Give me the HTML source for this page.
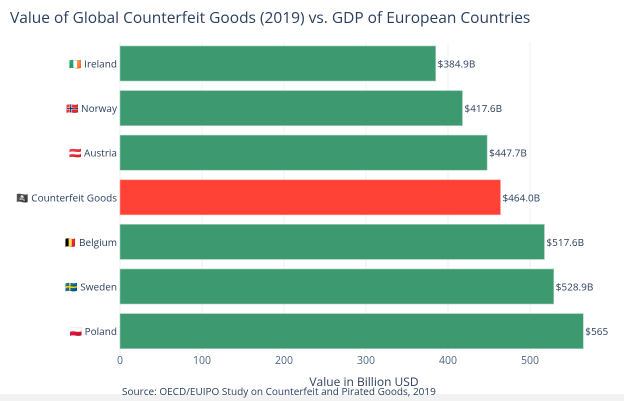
<!DOCTYPE html>
<html><head><meta charset="utf-8"><style>
body{margin:0;background:#fff;font-family:"Open Sans","Liberation Sans","DejaVu Sans",sans-serif;}
#wrap{position:relative;width:624px;height:401px;overflow:hidden;background:#fff;}
</style></head><body>
<div id="wrap">
<svg id="chart" width="624" height="401"></svg>
</div>
<script>
const categories=["Ireland","Norway","Austria","Counterfeit Goods","Belgium","Sweden","Poland"];
const values=[384.9,417.6,447.7,464.0,517.6,528.9,565];
const valueLabels=["$384.9B","$417.6B","$447.7B","$464.0B","$517.6B","$528.9B","$565"];
const ticks=[0,100,200,300,400,500];
const ns="http://www.w3.org/2000/svg";
const svg=document.getElementById('chart');
const x0=120,pxPer=0.82,plotTop=42,step=44.6,barH=35;
const xs=v=>x0+v*pxPer;
function el(t,a,txt){const e=document.createElementNS(ns,t);for(const k in a)e.setAttribute(k,a[k]);if(txt!==undefined)e.textContent=txt;svg.appendChild(e);return e;}
let e;
e=el('rect',{x:0,y:394,width:624,height:7,fill:'#f2f2f2'});


e=el('text',{x:10,y:23,'font-size':15.5,fill:'#2a3f5f'},'Value of Global Counterfeit Goods (2019) vs. GDP of European Countries');


ticks.forEach(t=>{
  e=el('line',{x1:xs(t),x2:xs(t),y1:plotTop,y2:352,stroke:'#eef1f6','stroke-width':1});
  
  
  e=el('text',{x:xs(t),y:364,'font-size':10.5,fill:'#506784','text-anchor':'middle'},String(t));
  
  
});
const flags=["🇮🇪","🇳🇴","🇦🇹","🏴‍☠️","🇧🇪","🇸🇪","🇵🇱"];
categories.forEach((c,i)=>{
  const y=plotTop+4+i*step;
  const red=c==="Counterfeit Goods";
  e=el('rect',{x:x0,y:y,width:xs(values[i])-x0,height:barH,fill:red?'#ff4136':'#3d9970',stroke:red?'#ffa098':'#9fd0b6','stroke-width':0.6});
  
  
  e=el('text',{x:xs(values[i])+2,y:y+barH/2+4,'font-size':10,fill:'#2a3f5f'},valueLabels[i]);
  
  
  e=el('text',{x:117,y:y+barH/2+4,'font-size':10,fill:'#2a3f5f','text-anchor':'end'},flags[i]+' '+c);
  
  
});
e=el('text',{x:364,y:386,'font-size':12,fill:'#2a3f5f','text-anchor':'middle'},'Value in Billion USD');


e=el('text',{x:122,y:395,'font-size':10,fill:'#2a3f5f'},'Source: OECD/EUIPO Study on Counterfeit and Pirated Goods, 2019');


</script>
</body></html>
